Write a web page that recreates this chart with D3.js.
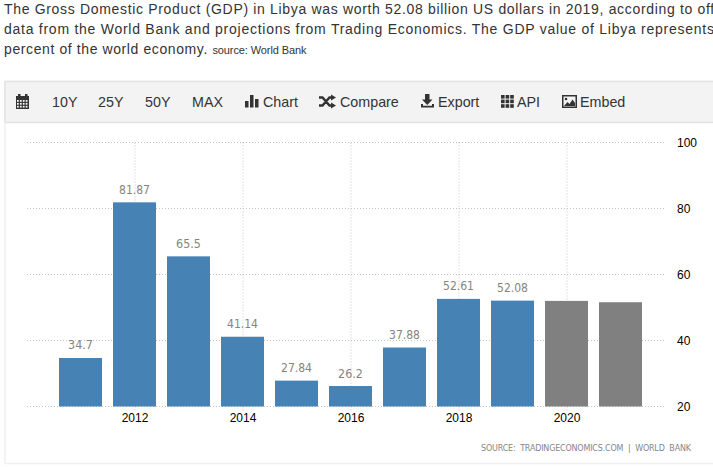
<!DOCTYPE html>
<html lang="en">
  <head>
    <title>Libya GDP</title>
    <meta charset="utf-8" />
    <script src="https://cdnjs.cloudflare.com/ajax/libs/d3/7.8.5/d3.min.js"></script>
    <style>
      html, body { margin: 0; padding: 0; background: #fff; overflow: hidden; }
      #page { position: relative; width: 713px; height: 467px; overflow: hidden; font-family: "Liberation Sans", Arial, sans-serif; }
      .line { position: absolute; left: 4px; white-space: nowrap; font-size: 14px; color: #333; }
      .line small { font-size: 11px; letter-spacing: -0.1px; color: #333; }
      svg { position: absolute; left: 0; top: 0; }
      .grid line { stroke: #c4c4c4; stroke-dasharray: 1 2; }
    </style>
  </head>
  <body>
    <div id="page">
      <div class="line" style="top:1px; letter-spacing:0.67px">The Gross Domestic Product (GDP) in Libya was worth 52.08 billion US dollars in 2019, according to official</div>
      <div class="line" style="top:21px; letter-spacing:0.74px">data from the World Bank and projections from Trading Economics. The GDP value of Libya represents 0.06</div>
      <div class="line" style="top:41px; letter-spacing:0.6px">percent of the world economy. <small>source: World Bank</small></div>
      <svg id="chart" width="713" height="467"></svg>
    </div>
    <script>
      // chart values
      const years = [2011, 2012, 2013, 2014, 2015, 2016, 2017, 2018, 2019, 2020, 2021];
      const gdp = [34.7, 81.87, 65.5, 41.14, 27.84, 26.2, 37.88, 52.61, 52.08, 52, 51.6];
      const labels = ["34.7", "81.87", "65.5", "41.14", "27.84", "26.2", "37.88", "52.61", "52.08", "", ""];
      const forecastYears = [2020, 2021];
      const xTicks = [2012, 2014, 2016, 2018, 2020];
      const yTicks = [20, 40, 60, 80, 100];
      const menuItems = ["10Y", "25Y", "50Y", "MAX", "Chart", "Compare", "Export", "API", "Embed"];
      const menuPos = [52, 98, 145, 192, 263, 340, 438, 517, 580];

      const svg = d3.select("#chart");

      // panel and toolbar
      svg.append("rect").attr("x", 5).attr("y", 81.5).attr("width", 720).attr("height", 382)
        .attr("fill", "#fff").attr("stroke", "#f0f0f0").attr("stroke-width", 1.5);
      svg.append("rect").attr("x", 5).attr("y", 81.5).attr("width", 720).attr("height", 41)
        .attr("fill", "#f3f3f3").attr("stroke", "#e2e2e2").attr("stroke-width", 1.5);

      svg.append("g").selectAll("text").data(menuItems).enter().append("text")
        .attr("x", (d, i) => menuPos[i]).attr("y", 107)
        .attr("font-size", 14.3).attr("fill", "#333")
        .attr("font-family", "'Liberation Sans', Arial, sans-serif")
        .text((d) => d);

      // toolbar icons
      const icons = svg.append("g").attr("fill", "#333");
      // calendar
      icons.append("path").attr("d", "M16 96h13v13h-13zM18 94h2.500v3h-2.500zM25 94h2.500v3h-2.500z");
      icons.append("g").attr("fill", "#f3f3f3").selectAll("rect").data(d3.range(12)).enter().append("rect")
        .attr("x", (d) => 17 + (d % 4) * 2.9).attr("y", (d) => 100 + Math.floor(d / 4) * 2.9)
        .attr("width", 1.8).attr("height", 1.8);
      // bars
      icons.append("path").attr("d", "M245 101h3.500v6.500h-3.500zM250 95h3.500v12.500h-3.500zM255 99h3.500v8.500h-3.500z");
      // shuffle
      icons.append("path").attr("fill", "none").attr("stroke", "#333").attr("stroke-width", 2.4)
        .attr("d", "M319 97.500h3.500l7 8h2M319 105.500h3.500l7-8h2");
      icons.append("path").attr("d", "M331 94.500l5 3-5 3zM331 102.500l5 3-5 3z");
      // download
      icons.append("path").attr("d", "M425 94h4.500v5.500h3l-5.250 5.500-5.250-5.500h3zM421 104h2v1.800h9v-1.800h2v3.500h-13z");
      // grid
      icons.append("g").selectAll("rect").data(d3.range(9)).enter().append("rect")
        .attr("x", (d) => 501 + (d % 3) * 4.6).attr("y", (d) => 95 + Math.floor(d / 3) * 4.6)
        .attr("width", 3.6).attr("height", 3.6);
      // picture
      icons.append("path").attr("fill-rule", "evenodd").attr("d", "M562 95h15v13h-15zM563.500 96.500v10h12v-10z");
      icons.append("path").attr("d", "M564 106l3.500-4 2 2 3-4.500 2.500 3.500v3z");
      icons.append("circle").attr("cx", 566).attr("cy", 99).attr("r", 1.3);

      // scales
      const xScale = d3.scaleBand().domain(years).range([59, 642]).paddingInner(11 / 54).paddingOuter(0);
      const yScale = d3.scaleLinear().domain([20, 100]).range([406.5, 142.5]);
      const xCenter = (d) => xScale(d) + xScale.bandwidth() / 2;

      // grid lines
      const grid = svg.append("g").attr("class", "grid");
      grid.selectAll(".h").data(yTicks).enter().append("line").attr("class", "h")
        .attr("x1", 27).attr("x2", 665).attr("y1", (d) => yScale(d)).attr("y2", (d) => yScale(d));
      grid.selectAll(".v").data(xTicks).enter().append("line").attr("class", "v")
        .attr("x1", (d) => xCenter(d) + 0.5).attr("x2", (d) => xCenter(d) + 0.5)
        .attr("y1", yScale(100)).attr("y2", yScale(20) + 6);

      // bars
      svg.append("g").selectAll("rect").data(years).enter().append("rect")
        .attr("x", (d) => xScale(d)).attr("width", xScale.bandwidth())
        .attr("y", (d, i) => yScale(gdp[i])).attr("height", (d, i) => yScale(20) - yScale(gdp[i]))
        .attr("fill", (d) => (forecastYears.includes(d) ? "#808080" : "#4682b4"));

      // value labels
      svg.append("g").selectAll("text").data(years).enter().append("text")
        .attr("x", (d) => xCenter(d)).attr("y", (d, i) => yScale(gdp[i]) - 8.5)
        .attr("text-anchor", "middle").attr("font-size", 12).attr("fill", "#85857d")
        .attr("font-family", "'DejaVu Sans', Tahoma, sans-serif")
        .attr("textLength", (d, i) => labels[i].length * 6.2).attr("lengthAdjust", "spacingAndGlyphs")
        .text((d, i) => labels[i]);

      // axes
      const xAxis = svg.append("g").attr("transform", "translate(0.5, 406.5)")
        .call(d3.axisBottom(xScale).tickValues(xTicks).tickSize(0).tickPadding(7));
      const yAxis = svg.append("g").attr("transform", "translate(677, 0)")
        .call(d3.axisRight(yScale).tickValues(yTicks).tickSize(0).tickPadding(0));
      xAxis.select(".domain").remove();
      yAxis.select(".domain").remove();
      [xAxis, yAxis].forEach((a) => a.selectAll("text")
        .attr("font-family", "'Liberation Sans', Arial, sans-serif").attr("font-size", 12).attr("fill", "#000"));

      // source
      svg.append("text").attr("x", 691).attr("y", 451).attr("text-anchor", "end")
        .attr("font-family", "'DejaVu Sans', Verdana, sans-serif")
        .attr("font-size", 8).attr("fill", "#85858d")
        .attr("textLength", 210).attr("lengthAdjust", "spacing")
        .text("SOURCE:\u00a0\u00a0TRADINGECONOMICS.COM\u00a0\u00a0|\u00a0\u00a0WORLD\u00a0\u00a0BANK");
    </script>
  </body>
</html>
